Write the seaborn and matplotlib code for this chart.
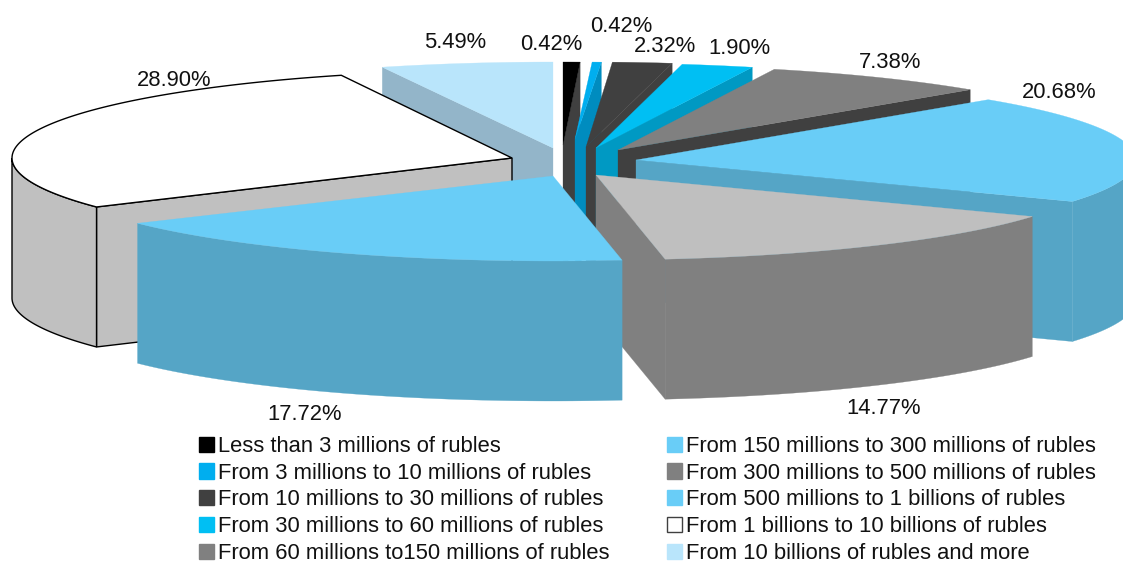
'''
Exploded 3D pie of shares by size group, drawn as projected polygons.
'''

import numpy as np
import matplotlib.pyplot as plt
from matplotlib.patches import Polygon, Patch
import seaborn as sns

shares = [0.42, 0.42, 2.32, 1.90, 7.38, 20.68, 14.77, 17.72, 28.90, 5.49]
share_labels = ['0.42%', '0.42%', '2.32%', '1.90%', '7.38%', '20.68%', '14.77%', '17.72%', '28.90%', '5.49%']
groups = ['Less than 3 millions of rubles',
          'From 3 millions to 10 millions of rubles',
          'From 10 millions to 30 millions of rubles',
          'From 30 millions to 60 millions of rubles',
          'From 60 millions to150 millions of rubles',
          'From 150 millions to 300 millions of rubles',
          'From 300 millions to 500 millions of rubles',
          'From 500 millions to 1 billions of rubles',
          'From 1 billions to 10 billions of rubles',
          'From 10 billions of rubles and more']

# slice styling
top_colors = ['#000000', '#00AEEF', '#404040', '#00BFF3', '#808080',
              '#69CDF7', '#BFBFBF', '#69CDF7', '#FFFFFF', '#B9E5FB']
wall_colors = ['#404040', '#008CBF', '#404040', '#0099C3', '#404040',
               '#55A5C6', '#808080', '#55A5C6', '#C0C0C0', '#93B5C9']
legend_colors = ['#000000', '#00AEEF', '#404040', '#00BFF3', '#808080',
                 '#69CDF7', '#808080', '#69CDF7', '#FFFFFF', '#B9E5FB']

# layout in pixels
rx, depth = 500, 140
slice_ry = [83, 77, 85, 85, 85, 85, 85, 85, 88, 86]
apex_x = [563, 575, 586, 596, 618, 636, 596, 553, 512, 553]
apex_y = [145, 139, 147, 148, 150, 160, 175, 176, 158, 148]
boundary_nudge = [0, 0.45, 0, -1.45, 0, 0, 0, -0.35, 0, -0.2, 0]
label_x = [551, 621, 665, 739, 890, 1059, 884, 305, 174, 455]
label_y = [44, 26, 46, 49, 62, 93, 408, 415, 81, 42]
paint_order = [9, 8, 0, 1, 2, 3, 4, 5, 6, 7]

sns.set_theme(style='white')
plt.rcParams['font.family'] = ['Liberation Sans', 'DejaVu Sans']

boundaries = np.concatenate([[0], np.cumsum(shares)]) / np.sum(shares) * 360 + boundary_nudge


def rim(cx, cy, ry, angles):
    rad = np.radians(angles)
    return np.column_stack([cx + rx * np.sin(rad), cy - ry * np.cos(rad)])


fig = plt.figure(figsize=(11.23, 5.62), dpi=100)
ax = fig.add_axes([0, 0, 1, 1])
ax.set_xlim(0, 1123)
ax.set_ylim(562, 0)
ax.set_axis_off()

for i in paint_order:
    start, end = boundaries[i], boundaries[i + 1]
    cx, cy, ry = apex_x[i], apex_y[i], slice_ry[i]
    outlined = top_colors[i] == '#FFFFFF'
    edge = 'black' if outlined else wall_colors[i]
    lw = 1 if outlined else 0.2

    # radial wall that faces the viewer
    for angle, faces in [(start, np.sin(np.radians(start)) < -1e-6), (end, np.sin(np.radians(end)) > 1e-6)]:
        if faces:
            outer = rim(cx, cy, ry, [angle])[0]
            wall = [[cx, cy], outer, outer + [0, depth], [cx, cy + depth]]
            ax.add_patch(Polygon(wall, closed=True, facecolor=wall_colors[i], edgecolor=edge, linewidth=lw))

    # outer wall, front half of the rim only
    lo, hi = max(start, 90), min(end, 270)
    if hi > lo:
        arc = rim(cx, cy, ry, np.linspace(lo, hi, 80))
        side = np.vstack([arc, arc[::-1] + [0, depth]])
        ax.add_patch(Polygon(side, closed=True, facecolor=wall_colors[i], edgecolor=edge, linewidth=lw))

    # top face
    arc = rim(cx, cy, ry, np.linspace(start, end, 120))
    top = np.vstack([[cx, cy], arc])
    ax.add_patch(Polygon(top, closed=True, facecolor=top_colors[i],
                         edgecolor='black' if outlined else top_colors[i], linewidth=lw))

for x, y, s in zip(label_x, label_y, share_labels):
    ax.text(x, y, s, fontsize=15.8, color='#111111', ha='center', va='center')

palette = sns.color_palette(legend_colors)
handles = [Patch(facecolor=c, edgecolor='#404040' if legend_colors[k] == '#FFFFFF' else c, linewidth=1)
           for k, c in enumerate(palette)]

common = dict(frameon=False, fontsize=15.85, handlelength=0.68, handleheight=0.68,
              handletextpad=0.2, labelspacing=0.26, borderpad=0, borderaxespad=0,
              loc='upper left', labelcolor='#111111')
left = ax.legend(handles[:5], groups[:5], bbox_to_anchor=(199, 436), bbox_transform=ax.transData, **common)
ax.add_artist(left)
ax.legend(handles[5:], groups[5:], bbox_to_anchor=(667, 436), bbox_transform=ax.transData, **common)

fig.savefig('out.png', dpi=100)
